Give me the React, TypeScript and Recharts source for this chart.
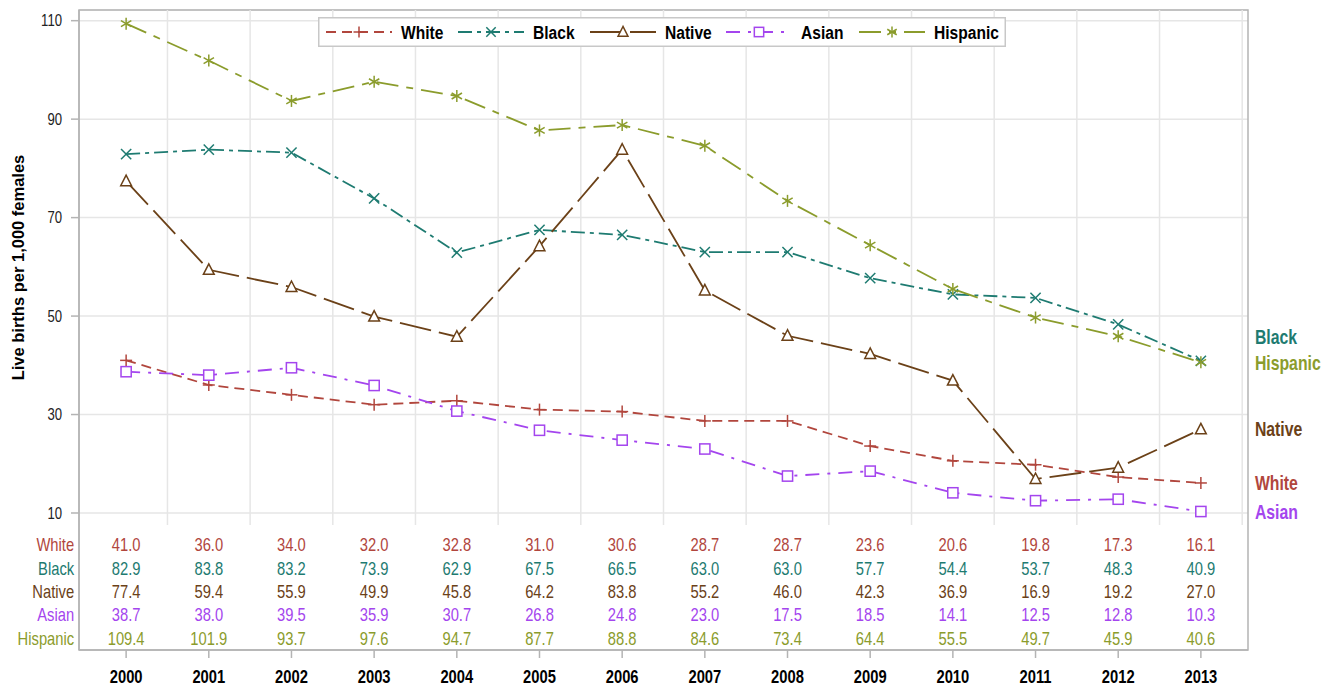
import React from "react";
import {
  LineChart,
  Line,
  XAxis,
  YAxis,
  CartesianGrid,
  ReferenceLine,
  ReferenceArea,
  Legend,
  Label,
} from "recharts";

const years = [2000, 2001, 2002, 2003, 2004, 2005, 2006, 2007, 2008, 2009, 2010, 2011, 2012, 2013];
const white = [41.0, 36.0, 34.0, 32.0, 32.8, 31.0, 30.6, 28.7, 28.7, 23.6, 20.6, 19.8, 17.3, 16.1];
const black = [82.9, 83.8, 83.2, 73.9, 62.9, 67.5, 66.5, 63.0, 63.0, 57.7, 54.4, 53.7, 48.3, 40.9];
const native = [77.4, 59.4, 55.9, 49.9, 45.8, 64.2, 83.8, 55.2, 46.0, 42.3, 36.9, 16.9, 19.2, 27.0];
const asian = [38.7, 38.0, 39.5, 35.9, 30.7, 26.8, 24.8, 23.0, 17.5, 18.5, 14.1, 12.5, 12.8, 10.3];
const hispanic = [109.4, 101.9, 93.7, 97.6, 94.7, 87.7, 88.8, 84.6, 73.4, 64.4, 55.5, 49.7, 45.9, 40.6];
const yTicks = [10, 30, 50, 70, 90, 110];

const FONT = "'Liberation Sans', Arial, sans-serif";
const GRID = "#e6e6e6";
const FRAME = "#b4b4b4";

const SERIES = [
  { key: "white", name: "White", color: "#b1463d", dash: "10 6", marker: "plus", values: white, labelDy: 7.5 },
  { key: "black", name: "Black", color: "#1e7b71", dash: "14 5 4 5", marker: "x", values: black, labelDy: -16.5 },
  { key: "native", name: "Native", color: "#6b4118", dash: "32 8", marker: "triangle", values: native, labelDy: 7 },
  { key: "asian", name: "Asian", color: "#a445ee", dash: "14 8 3 8", marker: "square", values: asian, labelDy: 7 },
  { key: "hispanic", name: "Hispanic", color: "#8b9c2c", dash: "22 8 7 8", marker: "star", values: hispanic, labelDy: 7.2 },
];

const data = years.map((year, i) => {
  const row: any = { year };
  SERIES.forEach((s) => (row[s.key] = s.values[i]));
  return row;
});

// narrow text: Arial squeezed horizontally, like Arial Narrow
const NText = ({ x, y, anchor = "start", size = 18, weight = "normal", fill = "#000", sx = 0.82, children }: any) => (
  <text
    transform={`translate(${x} ${y}) scale(${sx} 1)`}
    textAnchor={anchor}
    fontSize={size}
    fontWeight={weight}
    fill={fill}
    fontFamily={FONT}
  >
    {children}
  </text>
);

const Marker = ({ type, cx, cy, color, r = 6 }: any) => {
  if (cx == null || cy == null) return null;
  const sw = 1.5;
  if (type === "plus")
    return (
      <g stroke={color} strokeWidth={sw}>
        <line x1={cx - r} y1={cy} x2={cx + r} y2={cy} />
        <line x1={cx} y1={cy - r} x2={cx} y2={cy + r} />
      </g>
    );
  if (type === "x") {
    const d = r * 0.85;
    return (
      <g stroke={color} strokeWidth={sw}>
        <line x1={cx - d} y1={cy - d} x2={cx + d} y2={cy + d} />
        <line x1={cx - d} y1={cy + d} x2={cx + d} y2={cy - d} />
      </g>
    );
  }
  if (type === "triangle")
    return (
      <polygon
        points={`${cx},${cy - r} ${cx - r * 0.9},${cy + r * 0.75} ${cx + r * 0.9},${cy + r * 0.75}`}
        fill="#fff"
        stroke={color}
        strokeWidth={sw}
      />
    );
  if (type === "square") {
    const h = r * 0.85;
    return <rect x={cx - h} y={cy - h} width={h * 2} height={h * 2} fill="#fff" stroke={color} strokeWidth={sw} />;
  }
  const c = Math.cos(Math.PI / 6) * r;
  const s = Math.sin(Math.PI / 6) * r;
  return (
    <g stroke={color} strokeWidth={sw}>
      <line x1={cx} y1={cy - r} x2={cx} y2={cy + r} />
      <line x1={cx - c} y1={cy - s} x2={cx + c} y2={cy + s} />
      <line x1={cx - c} y1={cy + s} x2={cx + c} y2={cy - s} />
    </g>
  );
};

const YearTick = (props: any) => {
  const { x, y, payload } = props;
  const i = years.indexOf(payload.value);
  const axisY = y - 8;
  const rows = [-98.6, -75.3, -51.9, -28.6, -5.3];
  return (
    <g>
      {SERIES.map((s, r) => (
        <NText key={s.key} x={x} y={axisY + rows[r]} anchor="middle" fill={s.color}>
          {s.values[i].toFixed(1)}
        </NText>
      ))}
      {i === 0 &&
        SERIES.map((s, r) => (
          <NText key={"lab" + s.key} x={x - 52} y={axisY + rows[r]} anchor="end" fill={s.color}>
            {s.name}
          </NText>
        ))}
      <NText x={x} y={axisY + 32.7} anchor="middle" weight="bold">
        {payload.value}
      </NText>
    </g>
  );
};

const ValueTick = (props: any) => {
  const { x, y, payload } = props;
  return (
    <NText x={x} y={y + 5.7} anchor="end" size={16} fill="#222">
      {payload.value}
    </NText>
  );
};

const endLabel = (s: any) => (props: any) => {
  const { x, y, index } = props;
  if (index !== years.length - 1) return null;
  return (
    <NText x={x + 54} y={y + s.labelDy} size={20} sx={0.79} weight="bold" fill={s.color}>
      {s.name}
    </NText>
  );
};

const LEGEND_X = [8, 140, 272, 408, 541];

const LegendBox = () => (
  <svg width={688} height={30} style={{ display: "block" }}>
    <rect x={0.75} y={0.75} width={686.5} height={28.5} fill="#fff" stroke="#c8c8c8" strokeWidth={1.5} />
    {SERIES.map((s, i) => (
      <g key={s.key}>
        <line
          x1={LEGEND_X[i]}
          y1={15}
          x2={LEGEND_X[i] + 66}
          y2={15}
          stroke={s.color}
          strokeWidth={1.8}
          strokeDasharray={s.dash}
        />
        <Marker type={s.marker} cx={LEGEND_X[i] + 33} cy={15} color={s.color} r={5.5} />
        <NText x={LEGEND_X[i] + 75} y={21.5} size={19} weight="bold">
          {s.name}
        </NText>
      </g>
    ))}
  </svg>
);

const gridXs = years.map((y) => y + 0.5);
const X_DOMAIN: [number, number] = [1999.43, 2013.57];
const Y_DOMAIN: [number, number] = [-17.83, 112.17];

export default function App() {
  return (
    <div style={{ position: "absolute", left: 0, top: 0, width: 1333, height: 685, background: "#fff", fontFamily: FONT }}>
      <LineChart width={1333} height={685} data={data} margin={{ top: 10, right: 85, left: 0, bottom: 0 }}>
        <CartesianGrid vertical={false} stroke={GRID} strokeWidth={1.5} />
        <XAxis
          dataKey="year"
          type="number"
          domain={X_DOMAIN}
          ticks={years}
          interval={0}
          allowDataOverflow
          height={35}
          tickSize={8}
          tickMargin={0}
          axisLine={{ stroke: FRAME, strokeWidth: 1.5 }}
          tickLine={{ stroke: FRAME, strokeWidth: 1.5 }}
          tick={<YearTick />}
        />
        <YAxis
          type="number"
          domain={Y_DOMAIN}
          ticks={yTicks}
          allowDataOverflow
          width={79}
          tickSize={8}
          tickMargin={9}
          axisLine={{ stroke: FRAME, strokeWidth: 1.5 }}
          tickLine={{ stroke: FRAME, strokeWidth: 1.5 }}
          tick={<ValueTick />}
        >
          <Label
            content={(p: any) => {
              const cy = p.viewBox.y + 257.5;
              return (
                <text
                  x={24}
                  y={cy}
                  transform={`rotate(-90 24 ${cy})`}
                  textAnchor="middle"
                  fontSize={16.5}
                  fontWeight="bold"
                  fill="#000"
                  fontFamily={FONT}
                >
                  Live births per 1,000 females
                </text>
              );
            }}
          />
        </YAxis>
        {gridXs.map((gx) => (
          <ReferenceLine
            key={gx}
            segment={[
              { x: gx, y: 7.56 },
              { x: gx, y: Y_DOMAIN[1] },
            ]}
            stroke={GRID}
            strokeWidth={1.5}
            ifOverflow="visible"
          />
        ))}
        <ReferenceArea
          x1={X_DOMAIN[0]}
          x2={X_DOMAIN[1]}
          y1={Y_DOMAIN[0]}
          y2={Y_DOMAIN[1]}
          fill="none"
          stroke={FRAME}
          strokeWidth={1.5}
          ifOverflow="visible"
        />
        <Legend
          content={<LegendBox />}
          layout="vertical"
          align="center"
          verticalAlign="middle"
          wrapperStyle={{ top: 17, left: 318, width: "auto" }}
        />
        {SERIES.map((s) => (
          <Line
            key={s.key}
            dataKey={s.key}
            name={s.name}
            type="linear"
            stroke={s.color}
            strokeWidth={1.8}
            strokeDasharray={s.dash}
            isAnimationActive={false}
            activeDot={false}
            dot={(p: any) => <Marker key={s.key + p.index} type={s.marker} cx={p.cx} cy={p.cy} color={s.color} />}
            label={endLabel(s)}
          />
        ))}
      </LineChart>
    </div>
  );
}
